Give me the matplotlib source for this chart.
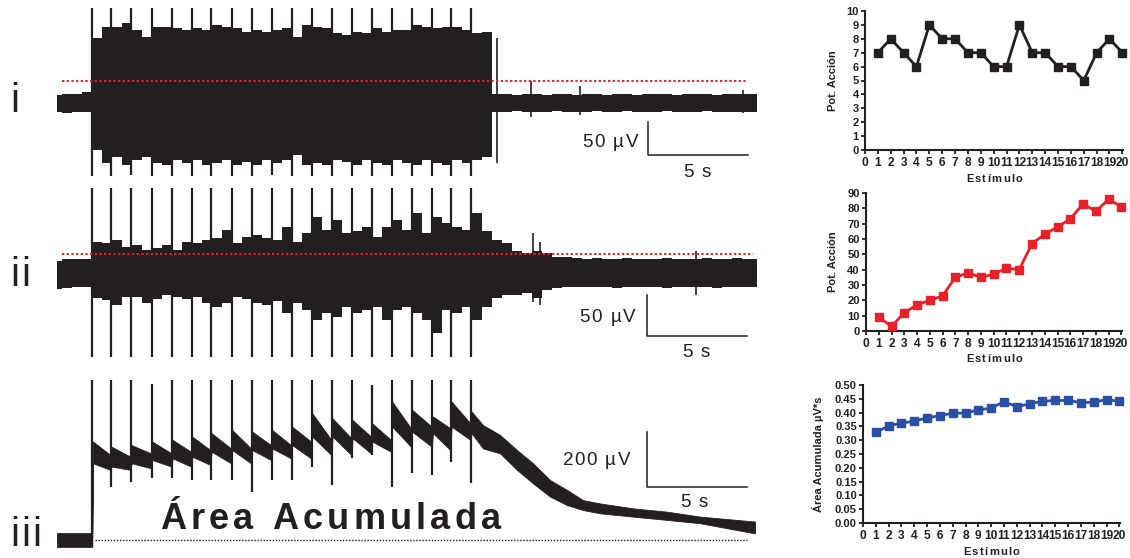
import numpy as np
import matplotlib
matplotlib.use('Agg')
import matplotlib.pyplot as plt
from matplotlib.transforms import IdentityTransform

plt.rcParams['font.family'] = ['Liberation Sans', 'DejaVu Sans']

# ---------------- data ----------------
# stimulus times (s) of the 20 stimuli
stim_t = [1.77, 2.70, 3.70, 4.73, 5.75, 6.73, 7.70, 8.73, 9.73, 10.73,
          11.73, 12.73, 13.75, 14.75, 15.73, 16.73, 17.73, 18.77, 19.70, 20.70]

# trace i (uV), envelope sampled every 0.5 s from t = 0
env_dt = 0.5
hi1 = [12, 13, 14, 16,
       97, 114, 114, 120, 110, 99, 114, 114, 112, 110, 112, 110, 117, 114, 112, 107,
       110, 107, 110, 112, 99, 117, 114, 112, 105, 102, 107, 105, 112, 107, 110, 110,
       117, 114, 112, 114, 114, 110, 105, 107,
       14, 13, 12, 14, 13, 12, 13, 14, 12, 13, 13, 12, 14, 13, 12, 13, 14, 13, 12, 13,
       14, 13, 12, 13, 14, 13, 13]
lo1 = [-14, -15, -13, -14,
       -70, -90, -81, -93, -85, -81, -90, -93, -85, -90, -85, -93, -90, -85, -93, -88,
       -93, -85, -90, -85, -78, -93, -90, -93, -85, -88, -93, -85, -90, -93, -85, -90,
       -93, -85, -90, -93, -85, -90, -85, -81,
       -13, -14, -12, -13, -14, -13, -12, -14, -13, -13, -12, -14, -13, -12, -14, -13,
       -13, -12, -14, -13, -13, -12, -14, -13, -13, -14, -13]
stim_hi1 = [142] * 20
stim_lo1 = [-110, -110, -108, -110, -110, -110, -110, -110, -110, -108,
            -110, -110, -110, -110, -110, -110, -110, -110, -110, -110]
extra1_t = [22.0, 23.7, 26.15, 34.3]
extra1_hi = [97, 33, 25, 19]
extra1_lo = [-90, -21, -18, -15]
thr1 = 33

# trace ii (uV)
hi2 = [15, 18, 18, 17,
       39, 37, 41, 33, 35, 29, 31, 35, 29, 39, 37, 41, 44, 54, 37, 45,
       48, 44, 41, 58, 39, 50, 70, 54, 66, 50, 52, 58, 45, 58, 66, 54,
       75, 50, 70, 62, 58, 54, 75, 52,
       41, 37, 27, 25, 27, 25, 20, 20, 19,
       18, 19, 17, 18, 19, 18, 17, 18, 19, 18, 18, 17, 19, 18, 18, 19, 17, 18]
lo2 = [-20, -19, -18, -18,
       -31, -34, -40, -30, -30, -38, -32, -28, -30, -32, -30, -38, -42, -38, -30, -32,
       -38, -40, -35, -50, -38, -46, -59, -50, -55, -42, -50, -46, -42, -59, -46, -42,
       -50, -59, -75, -46, -50, -42, -59, -42,
       -31, -28, -28, -25, -31, -21, -19, -18, -17,
       -18, -17, -18, -19, -17, -18, -18, -17, -19, -18, -17, -18, -18, -19, -17, -18, -18, -17]
stim_hi2 = [106] * 20
stim_lo2 = [-105] * 20
extra2_t = [23.8, 24.15, 31.95]
extra2_hi = [50, 39, 28]
extra2_lo = [-36, -40, -28]
thr2 = 24

# trace iii (uV)
pre3_hi, pre3_lo = 25, -25
saw_hi_after = [358, 339, 345, 358, 364, 376, 388, 400, 394, 400,
                412, 461, 442, 436, 424, 503, 473, 449, 503, 467]
saw_lo_after = [279, 267, 279, 291, 297, 303, 321, 327, 327, 333,
                345, 376, 376, 370, 358, 412, 394, 388, 412, 388]
saw_hi_before = [309, 303, 315, 315, 321, 327, 333, 333, 345, 345,
                 358, 364, 370, 376, 364, 406, 412, 406, 424]
saw_lo_before = [255, 255, 261, 267, 267, 273, 279, 279, 291, 297,
                 297, 309, 309, 315, 321, 339, 339, 327, 364]
decay_t = [21.3, 22.15, 23.0, 23.8, 24.65, 25.5, 26.3, 27.15, 28.8, 30.5, 32.15, 34.9]
decay_hi = [418, 382, 327, 279, 218, 182, 145, 133, 115, 103, 85, 67]
decay_lo = [333, 315, 255, 206, 158, 127, 109, 97, 85, 73, 61, 24]
stim_hi3 = [582, 582, 582, 567, 582, 582, 582, 582, 582, 582,
            582, 582, 582, 582, 564, 582, 582, 582, 582, 582]
stim_lo3 = [-25, 193, 211, 225, 225, 218, 218, 218, 175, 218,
            218, 265, 200, 298, 309, 193, 244, 236, 284, 207]

# right panels
stim_num = list(range(1, 21))
pa_i = [7, 8, 7, 6, 9, 8, 8, 7, 7, 6, 6, 9, 7, 7, 6, 6, 5, 7, 8, 7]
pa_ii = [9, 3, 12, 17, 20, 23, 35, 38, 35, 37, 41, 40, 57, 63, 68, 73, 83, 78, 86, 81]
area = [0.328, 0.352, 0.362, 0.369, 0.381, 0.389, 0.398, 0.398, 0.410, 0.416,
        0.440, 0.421, 0.432, 0.441, 0.444, 0.444, 0.436, 0.438, 0.447, 0.441]

# ---------------- figure ----------------
W, H, DPI = 1130, 558, 100
fig = plt.figure(figsize=(W / DPI, H / DPI), dpi=DPI)
renderer = fig.canvas.get_renderer()
K = '#231f20'
RED = '#e8202a'
BLUE = '#2b50a3'


def px_axes(x0, y0, x1, y1):
    return fig.add_axes([x0 / W, 1 - y1 / H, (x1 - x0) / W, (y1 - y0) / H])


def char_w(ch, size, weight):
    t1 = fig.text(0, 0, '|' + ch + '|', fontsize=size, weight=weight)
    t2 = fig.text(0, 0, '||', fontsize=size, weight=weight)
    w = t1.get_window_extent(renderer).width - t2.get_window_extent(renderer).width
    t1.remove(); t2.remove()
    return w


def spaced(s, x, y, size, track, ha='center', weight='normal', color=K):
    ws = [char_w(c, size, weight) for c in s]
    total = sum(ws) + track * (len(s) - 1)
    if ha == 'center':
        x0 = x - total / 2
    elif ha == 'right':
        x0 = x - total
    else:
        x0 = x
    cx = x0
    for c, w in zip(s, ws):
        fig.text(cx, H - y, c, transform=IdentityTransform(), fontsize=size,
                 weight=weight, color=color, ha='left', va='baseline')
        cx += w + track


def trace_axes(box, ylim):
    ax = px_axes(*box)
    ax.set_xlim(0, 35)
    ax.set_ylim(*ylim)
    ax.axis('off')
    ax.patch.set_alpha(0)
    return ax


# trace i
ax1 = trace_axes((57, 0, 757, 190), (-130.5, 154.5))
t1 = np.arange(len(hi1)) * env_dt
ax1.fill_between(t1, lo1, hi1, step='mid', color=K, lw=0)
ax1.vlines(stim_t, stim_lo1, stim_hi1, color=K, lw=1.6)
ax1.vlines(extra1_t, extra1_lo, extra1_hi, color=K, lw=1.2)
ax1.plot([0.25, 34.55], [thr1, thr1], color=RED, lw=1.4, ls=(0, (1.2, 1.2)), zorder=5)
ax1.plot([29.55, 29.55, 34.55], [-28, -78, -78], color=K, lw=1.1)

# trace ii
ax2 = trace_axes((57, 175, 757, 365), (-115, 122.5))
t2 = np.arange(len(hi2)) * env_dt
ax2.fill_between(t2, lo2, hi2, step='mid', color=K, lw=0)
ax2.vlines(stim_t, stim_lo2, stim_hi2, color=K, lw=1.6)
ax2.vlines(extra2_t, extra2_lo, extra2_hi, color=K, lw=1.2)
ax2.plot([0.25, 34.8], [thr2, thr2], color=RED, lw=1.4, ls=(0, (1.2, 1.2)), zorder=5)
ax2.plot([29.5, 29.5, 34.5], [-27.5, -78.75, -78.75], color=K, lw=1.1)

# trace iii
ax3 = trace_axes((57, 360, 757, 558), (-65.5, 654.5))
tt = [0.0, stim_t[0] - 0.01]
hh = [pre3_hi, pre3_hi]
ll = [pre3_lo, pre3_lo]
for k, ts in enumerate(stim_t):
    tt.append(ts + 0.03); hh.append(saw_hi_after[k]); ll.append(saw_lo_after[k])
    if k < len(stim_t) - 1:
        tt.append(stim_t[k + 1] - 0.03); hh.append(saw_hi_before[k]); ll.append(saw_lo_before[k])
tt += decay_t; hh += decay_hi; ll += decay_lo
ax3.fill_between(tt, ll, hh, color=K, lw=0.6)
ax3.vlines(stim_t, stim_lo3, stim_hi3, color=K, lw=1.6)
ax3.plot([1.9, 34.5], [0, 0], color=K, lw=1.0, ls=(0, (1.0, 1.2)))
ax3.plot([29.5, 29.5, 34.5], [393.8, 192.7, 192.7], color=K, lw=1.1)

# scale bar labels
spaced('50 µV', 638, 147, 13.5, 1.5, ha='right')
spaced('5 s', 697, 177, 13.5, 1.5)
spaced('50 µV', 635, 322, 13.5, 1.5, ha='right')
spaced('5 s', 696, 357, 13.5, 1.5)
spaced('200 µV', 630, 465, 13.5, 1.5, ha='right')
spaced('5 s', 694, 507, 13.5, 1.5)

# roman numerals
spaced('i', 10, 112, 29, 2, ha='left')
spaced('ii', 10, 286, 29, 2, ha='left')
spaced('iii', 10, 546, 29, 2, ha='left')

# big label
spaced('Área Acumulada', 160, 529, 26, 4.3, ha='left', weight='bold')


# ---------------- right panels ----------------
def small_panel(box, yvals, color, ylim, yticks, fmt, ylabel, ylab_x, xlab_y):
    ax = px_axes(*box)
    ax.plot(stim_num, yvals, color=color, lw=2.0, marker='s', ms=5.5,
            mfc=color, mec=color, clip_on=False, zorder=3)
    ax.set_xlim(0, 20.05)
    ax.set_ylim(*ylim)
    ax.set_xticks(range(0, 21))
    ax.set_yticks(yticks)
    ax.set_yticklabels([fmt.format(v) for v in yticks])
    for s in ('top', 'right'):
        ax.spines[s].set_visible(False)
    for s in ('left', 'bottom'):
        ax.spines[s].set_linewidth(1.5)
        ax.spines[s].set_color(K)
    ax.tick_params(direction='out', length=3, width=1.3, pad=1.5, labelsize=8,
                   colors=K)
    ax.tick_params(axis='x', labelsize=8.6, pad=2)
    for lab in ax.get_xticklabels() + ax.get_yticklabels():
        lab.set_fontweight('bold')
    x0, y0, x1, y1 = box
    fig.text(ylab_x / W, 1 - ((y0 + y1) / 2) / H, ylabel, rotation=90,
             ha='center', va='center', fontsize=8, weight='bold', color=K)
    spaced('Estímulo', (x0 + x1) / 2, xlab_y, 8, 1.3, weight='bold')
    return ax


small_panel((865, 11, 1123, 150), pa_i, K, (0, 10), list(range(0, 11)), '{:d}',
            'Pot. Acción', 833, 182)
small_panel((866, 193, 1122, 331), pa_ii, RED, (0, 90), list(range(0, 91, 10)), '{:d}',
            'Pot. Acción', 833, 362)
small_panel((863, 385, 1120, 523), area, BLUE, (0, 0.5),
            [round(0.05 * i, 2) for i in range(11)], '{:.2f}',
            'Área Acumulada µV*s', 818, 555)

fig.savefig('out.png', dpi=DPI)
